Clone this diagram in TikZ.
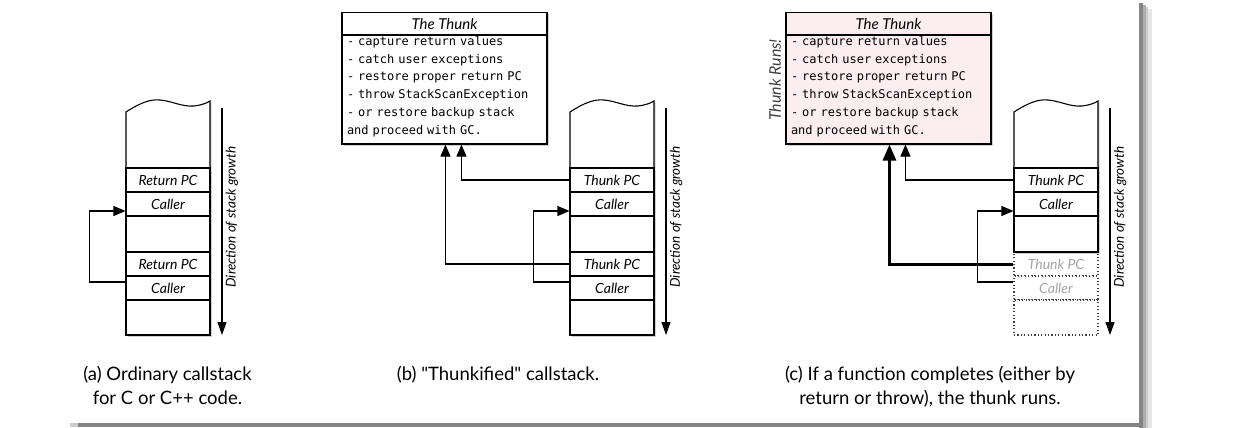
\documentclass[tikz,border=0pt]{standalone}
\usepackage{fontspec}
\setmainfont{Lato}
\setmonofont{DejaVu Sans Mono}
\newfontfamily\capfam{Lato}[Ligatures=TeXOff]
\usetikzlibrary{arrows.meta,shadows,calc}
\definecolor{thunkpink}{RGB}{252,238,238}
\definecolor{ghost}{RGB}{165,165,165}
\newcommand\rowfont{\fontsize{14}{16}\selectfont\itshape}
\newcommand\growfont{\fontsize{13.5}{16}\selectfont\itshape}
\newcommand\titlefont{\fontsize{15}{17}\selectfont\itshape}
\newcommand\codefont{\fontsize{12}{17.8}\selectfont\ttfamily}
\newcommand\capfont{\capfam\fontsize{18.5}{24}\selectfont}
\begin{document}
\begin{tikzpicture}[x=1pt,y=-1pt, line width=1.1pt,
  shad/.style={drop shadow={shadow xshift=1.6pt,shadow yshift=-1.6pt,fill=black,opacity=0.18}},
  stackrow/.style={draw, fill=white, minimum width=84pt, minimum height=24pt, inner sep=0pt, font=\rowfont, shad},
  blankrow/.style={stackrow, minimum height=#1},
  ghostrow/.style={draw=black!75, dash pattern=on 1.1pt off 2.3pt, fill=white, minimum width=84pt, minimum height=24pt, inner sep=0pt, font=\rowfont, text=ghost},
  arr/.style={-{Triangle[length=12pt,width=10pt]}, line width=1.1pt},
  thickarr/.style={-{Triangle[length=16pt,width=13pt]}, line width=3pt},
  growarr/.style={-{Triangle[length=13pt,width=9pt]}, line width=1.1pt},
  growlbl/.style={rotate=90, font=\growfont, inner sep=0pt},
  ttitle/.style={draw, fill=#1, minimum width=205pt, minimum height=22.5pt, inner sep=0pt, font=\titlefont, shad},
  tbody/.style={draw, fill=#1, minimum width=205pt, minimum height=109pt, inner sep=0pt, shad},
  ttext/.style={text width=197pt, align=left, inner sep=0pt, font=\codefont},
  captext/.style={align=center, font=\capfont, inner sep=0pt},
  tops/.style={draw, fill=white, shad},
]
\useasboundingbox (0,0) rectangle (1255,428);

% ---- outer frame (shadowed right and bottom edges)
\fill[black!10] (1148,9) rectangle (1152,428);
\fill[black!20] (1145.5,7) rectangle (1148,428);
\fill[black!32] (1143,5) rectangle (1145.5,428);
\fill[black!48] (1139,3) rectangle (1143,428);
\fill[black!20] (70,423) rectangle (78,427);
\fill[black!48] (78,423) rectangle (1143,427);

% ---- stack tops
\foreach \L in {126,570,1014}{
  \draw[tops] (\L,168) -- (\L,112) .. controls (\L+14,103) and (\L+24,99) .. (\L+34,100)
     .. controls (\L+46,101) and (\L+56,107) .. (\L+68,106)
     .. controls (\L+76,105) and (\L+81,103) .. (\L+84,101) -- (\L+84,168);
}

% ---- stack (a)
\node[stackrow] (a1) at (168,180) {Return PC};
\node[stackrow] (a2) at (168,204) {Caller};
\node[blankrow=36pt] (a3) at (168,234) {};
\node[stackrow] (a4) at (168,264) {Return PC};
\node[stackrow] (a5) at (168,288) {Caller};
\node[blankrow=35pt] (a6) at (168,317.5) {};
\draw[arr] ([yshift=6pt]a5.west) -- ++(-36,0) |- ([yshift=-7pt]a2.west);
\coordinate (ga1) at (222,108);
\coordinate (ga2) at (222,335);
\draw[growarr] (ga1) -- (ga2);
\node[growlbl] (gla) at (232,217) {Direction of stack growth};
\node[captext] (capa) at (167.5,385) {(a) Ordinary callstack\\for C or C++ code.};

% ---- stack (b)
\node[stackrow] (b1) at (612,180) {Thunk PC};
\node[stackrow] (b2) at (612,204) {Caller};
\node[blankrow=36pt] (b3) at (612,234) {};
\node[stackrow] (b4) at (612,264) {Thunk PC};
\node[stackrow] (b5) at (612,288) {Caller};
\node[blankrow=35pt] (b6) at (612,317.5) {};
\node[ttitle=white] (tbt) at (444.5,23.75) {The Thunk};
\node[tbody=white] (tbb) at (444.5,89.5) {};
\node[ttext] (tbx) at (445.5,86.5) {- capture return values\\- catch user exceptions\\- restore proper return PC\\- throw StackScanException\\- or restore backup stack\\and proceed with GC.};
\draw[arr] (b1.west) -| ($(tbb.south west)+(120,0)$);
\draw[arr] (b4.west) -| ($(tbb.south west)+(104,0)$);
\draw[arr] ([yshift=6pt]b5.west) -- ++(-36,0) |- ([yshift=-7pt]b2.west);
\coordinate (gb1) at (666,108);
\coordinate (gb2) at (666,335);
\draw[growarr] (gb1) -- (gb2);
\node[growlbl] (glb) at (676,217) {Direction of stack growth};
\node[captext, anchor=base] (capb) at (498,380) {(b) "Thunkified" callstack.};

% ---- stack (c)
\node[ghostrow] (c4) at (1056,264) {Thunk PC};
\node[ghostrow] (c5) at (1056,288) {Caller};
\node[ghostrow, minimum height=35pt] (c6) at (1056,317.5) {};
\node[stackrow] (c1) at (1056,180) {Thunk PC};
\node[stackrow] (c2) at (1056,204) {Caller};
\node[blankrow=36pt] (c3) at (1056,234) {};
\node[ttitle=thunkpink] (tct) at (888.5,23.75) {The Thunk};
\node[tbody=thunkpink] (tcb) at (888.5,89.5) {};
\node[ttext] (tcx) at (889.5,86.5) {- capture return values\\- catch user exceptions\\- restore proper return PC\\- throw StackScanException\\- or restore backup stack\\and proceed with GC.};
\node[rotate=90, font=\fontsize{16}{18}\selectfont\itshape, text=black!75, inner sep=0pt] (runs) at (775,80) {Thunk Runs!};
\draw[arr] (c1.west) -| ($(tcb.south west)+(120,0)$);
\draw[arr] ([yshift=6pt]c5.west) -- ++(-36,0) |- ([yshift=-7pt]c2.west);
\draw[thickarr] (c4.west) -| ($(tcb.south west)+(104,0)$);
\coordinate (gc1) at (1110,108);
\coordinate (gc2) at (1110,335);
\draw[growarr] (gc1) -- (gc2);
\node[growlbl] (glc) at (1120,217) {Direction of stack growth};
\node[captext] (capc) at (930,387) {(c) If a function completes (either by\\return or throw), the thunk runs.};
\end{tikzpicture}
\end{document}
